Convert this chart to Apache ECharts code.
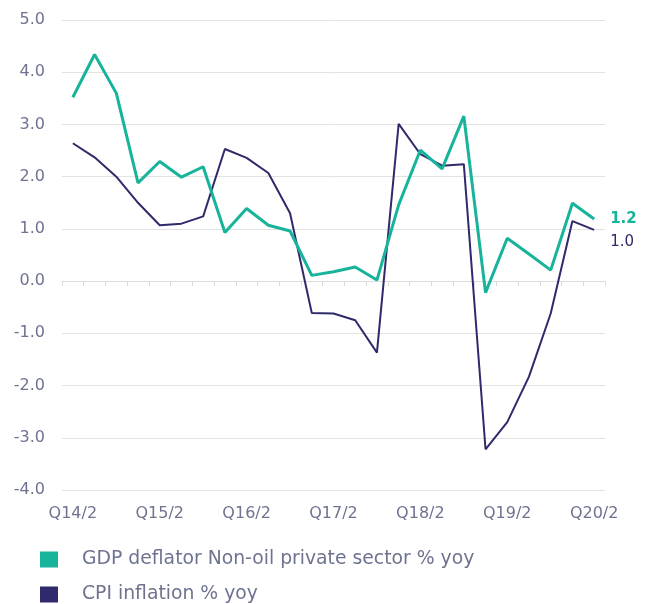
<!DOCTYPE html>
<html>
<head>
<meta charset="utf-8">
<script src="https://cdn.jsdelivr.net/npm/echarts@6/dist/echarts.min.js"></script>
<style>
  html, body { margin: 0; padding: 0; background: #fff; }
  #chart { width: 647px; height: 604px; }
</style>
</head>
<body>
<div id="chart"></div>
<script>
// quarters Q14/2 .. Q20/2
let quarters = []
for (let y = 14; y <= 20; y++) {
  for (let q = 1; q <= 4; q++) {
    if ((y === 14 && q < 2) || (y === 20 && q > 2)) continue
    quarters.push('Q' + y + '/' + q)
  }
}
let gdpDeflator = [3.52, 4.34, 3.60, 1.88, 2.29, 1.99, 2.19, 0.93, 1.39, 1.07, 0.96, 0.11, 0.18,
  0.27, 0.02, 1.46, 2.51, 2.15, 3.16, -0.22, 0.82, 0.52, 0.21, 1.49, 1.19]
let cpiInflation = [2.64, 2.37, 2.00, 1.50, 1.07, 1.10, 1.24, 2.53, 2.36, 2.07, 1.30, -0.61, -0.62,
  -0.75, -1.37, 3.01, 2.43, 2.21, 2.24, -3.22, -2.70, -1.83, -0.62, 1.15, 0.98]
let seriesNames = ['GDP deflator Non-oil private sector % yoy', 'CPI inflation % yoy']
let teal = '#17b39a'
let navy = '#2e2a6b'
let textGray = '#6e7390'
let font = 'DejaVu Sans'

let legendBase = {
  orient: 'vertical',
  left: 40,
  padding: 0,
  itemWidth: 18,
  itemHeight: 16,
  icon: 'rect',
  textStyle: { color: textGray, fontSize: 18.8, fontFamily: font, padding: [0, 0, 0, 19] }
}

let chart = echarts.init(document.getElementById('chart'))
let option = {
  animation: false,
  textStyle: { fontFamily: font },
  grid: { left: 62, right: 42, top: 20, bottom: 114 },
  legend: [
    Object.assign({}, legendBase, { top: 550, data: [seriesNames[0]] }),
    Object.assign({}, legendBase, { top: 585, data: [seriesNames[1]] })
  ],
  xAxis: [
    {
      type: 'category',
      data: quarters,
      position: 'bottom',
      axisLine: { onZero: true, lineStyle: { color: '#dcdcdc', width: 1 } },
      axisTick: { show: true, interval: 0, length: 5, lineStyle: { color: '#dcdcdc' } },
      axisLabel: { show: false }
    },
    {
      type: 'category',
      data: quarters,
      position: 'bottom',
      axisLine: { show: false, onZero: false },
      axisTick: { show: false },
      axisLabel: { interval: 3, color: textGray, fontSize: 16, margin: 16, fontFamily: font }
    }
  ],
  yAxis: {
    type: 'value',
    min: -4,
    max: 5,
    interval: 1,
    axisLine: { show: false },
    axisTick: { show: false },
    axisLabel: {
      color: textGray,
      fontSize: 16,
      margin: 17,
      fontFamily: font,
      formatter: function (v) { return v.toFixed(1) }
    },
    splitLine: { lineStyle: { color: '#e2e2e2', width: 1 } }
  },
  series: [
    {
      name: seriesNames[1],
      type: 'line',
      data: cpiInflation,
      symbol: 'none',
      color: navy,
      lineStyle: { color: navy, width: 2 },
      endLabel: {
        show: true,
        formatter: function (p) { return p.value.toFixed(1) },
        color: navy,
        fontSize: 15,
        fontFamily: font,
        offset: [8, 12]
      }
    },
    {
      name: seriesNames[0],
      type: 'line',
      data: gdpDeflator,
      symbol: 'none',
      color: teal,
      lineStyle: { color: teal, width: 3 },
      endLabel: {
        show: true,
        formatter: function (p) { return p.value.toFixed(1) },
        color: teal,
        fontSize: 15,
        fontWeight: 'bold',
        fontFamily: font,
        offset: [8, 0]
      }
    }
  ]
}
chart.setOption(option)
</script>
</body>
</html>
